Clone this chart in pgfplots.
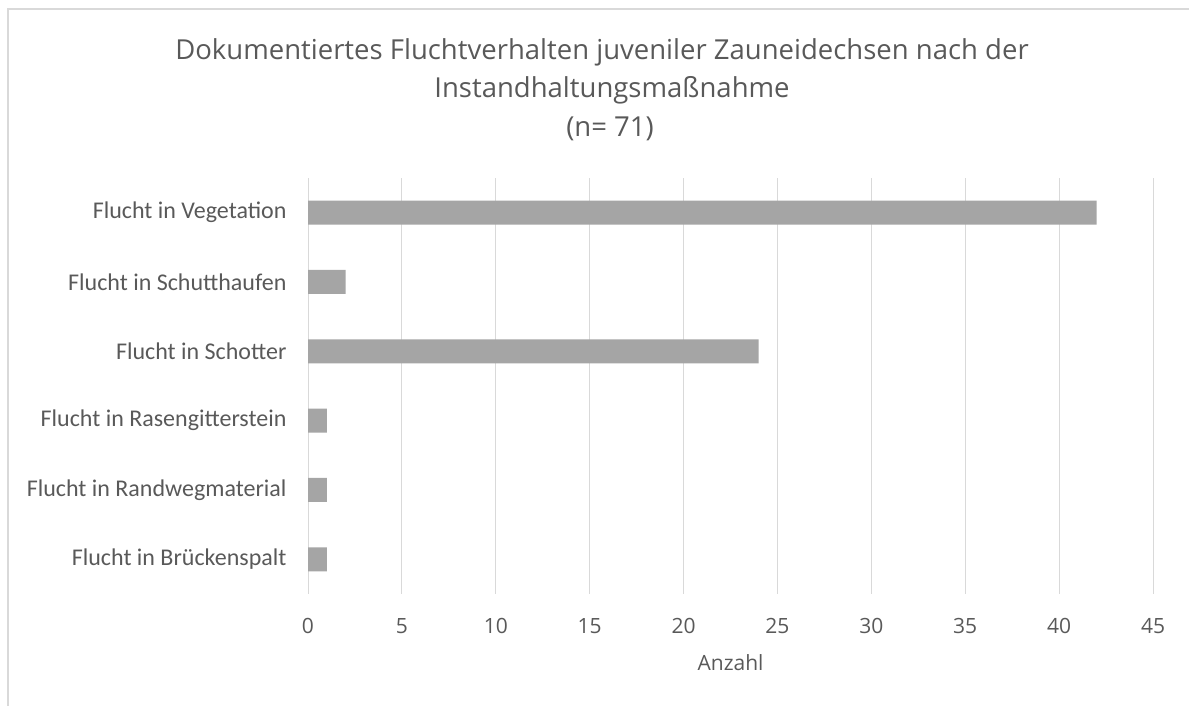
\documentclass[border=0pt]{standalone}
\usepackage{pgfplots}
\pgfplotsset{compat=1.18}
\usepackage{fontspec}
\setmainfont{Open Sans}
\newfontfamily\calibri{Carlito}
\definecolor{txt}{HTML}{595959}
\definecolor{gridc}{HTML}{D9D9D9}
\definecolor{barc}{HTML}{A5A5A5}
\begin{document}
\begin{tikzpicture}[x=1pt,y=1pt]
\useasboundingbox (0,0) rectangle (1189,706);
% chart frame (cut off at right and bottom)
\draw[gridc, line width=2pt] (8,0) -- (8,697) -- (1189,697);
\begin{scope}[every node/.style={txt, anchor=base, font=\fontsize{27.5}{42}\selectfont}]
\node at (602,646) {Dokumentiertes Fluchtverhalten juveniler Zauneidechsen nach der};
\node at (612,608) {Instandhaltungsmaßnahme};
\node at (610,569) {(n= 71)};
\end{scope}
\begin{axis}[
  at={(308pt,112pt)}, anchor=south west,
  width=845pt, height=416pt, scale only axis,
  xbar, bar width=24pt,
  xmin=0, xmax=45, xtick={0,5,...,45},
  ymin=-0.5, ymax=5.5, ytick={0,...,5},
  yticklabels={Flucht in Brückenspalt, Flucht in Randwegmaterial, Flucht in Rasengitterstein, Flucht in Schotter, Flucht in Schutthaufen, Flucht in Vegetation},
  xmajorgrids, grid style={gridc, line width=1pt},
  axis line style={draw=none}, major tick length=0pt,
  xticklabel style={txt, font=\fontsize{21}{25}\selectfont, yshift=-21pt},
  yticklabel style={txt, font=\calibri\fontsize{24}{28}\selectfont, xshift=-18pt},
  /pgf/number format/assume math mode=true,
  xlabel={Anzahl}, xlabel style={txt, font=\fontsize{21}{25}\selectfont, yshift=-14pt},
]
\addplot[fill=barc, draw=none] coordinates {(1,0) (1,1) (1,2) (24,3) (2,4) (42,5)};
\end{axis}
\end{tikzpicture}
\end{document}
